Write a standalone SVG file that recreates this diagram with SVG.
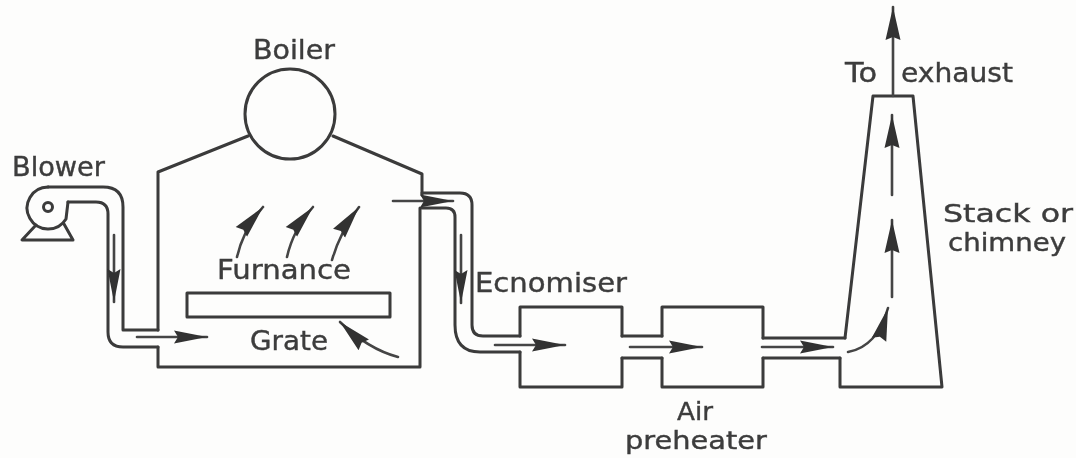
<svg xmlns="http://www.w3.org/2000/svg" width="1076" height="458" viewBox="0 0 1076 458">
<style>
.o{fill:none;stroke:#3a3a3a;stroke-width:3;stroke-linejoin:round;stroke-linecap:round}
.f{fill:none;stroke:#444;stroke-width:2.6;stroke-linecap:round}
.h{marker-end:url(#a)}
.s{marker-end:url(#b)}
text{font-family:"DejaVu Sans","Liberation Sans",sans-serif;font-size:27px;fill:#3c3c3c;stroke:#3c3c3c;stroke-width:.4}
.t{font-size:25px}
</style>
<defs>
<marker id="a" markerUnits="userSpaceOnUse" markerWidth="34" markerHeight="16" viewBox="0 -8 34 16" refX="33" refY="0" orient="auto">
<path d="M0 -6.500L4 0L0 6.500L33 0Z" fill="#333"/>
</marker>
<marker id="b" markerUnits="userSpaceOnUse" markerWidth="34" markerHeight="18" viewBox="0 -9 34 18" refX="33" refY="0" orient="auto">
<path d="M0 -7.500L3 0L0 7.500L33 0Z" fill="#333"/>
</marker>
<filter id="blur" x="-2%" y="-2%" width="104%" height="104%"><feGaussianBlur stdDeviation="0.7"/></filter>
</defs>
<rect width="1076" height="458" fill="#fdfdfc"/>
<g filter="url(#blur)">
<g id="boiler">
<circle class="o" cx="290" cy="114" r="45"/>
<text x="253" y="59" textLength="82" lengthAdjust="spacingAndGlyphs">Boiler</text>
</g>
<g id="furnace">
<path class="o" d="M248 136L158 172V330M158 347V367H420V208M333 136L422 174V195"/>
<text x="217" y="279" textLength="134" lengthAdjust="spacingAndGlyphs">Furnance</text>
</g>
<g id="grate">
<rect class="o" x="187" y="293" width="203" height="24"/>
<text x="250" y="350" textLength="78" lengthAdjust="spacingAndGlyphs">Grate</text>
</g>
<g id="blower">
<path class="o" d="M48 187A21 21 0 1 0 66 219L68 202"/>
<circle class="o" cx="48" cy="207" r="4.500"/>
<path class="o" d="M36 225L22 240H73L64 224"/>
<text x="12" y="176" textLength="93" lengthAdjust="spacingAndGlyphs">Blower</text>
</g>
<g id="economiser">
<path class="o" d="M520 336V307H622V336M520 352V387H622V358"/>
<text x="475" y="292" textLength="152" lengthAdjust="spacingAndGlyphs">Ecnomiser</text>
</g>
<g id="air-preheater">
<path class="o" d="M662 336V307H763V338M662 358V387H763V358"/>
<text x="677" y="420" textLength="36" lengthAdjust="spacingAndGlyphs" class="t">Air</text>
<text x="625" y="449" textLength="142" lengthAdjust="spacingAndGlyphs" class="t">preheater</text>
</g>
<g id="chimney">
<path class="o" d="M845 338L873 96H913L942 387H840V358"/>
<text x="845" y="82" textLength="32" lengthAdjust="spacingAndGlyphs">To</text>
<text x="901" y="82" textLength="112" lengthAdjust="spacingAndGlyphs">exhaust</text>
<text x="943" y="222" textLength="130" lengthAdjust="spacingAndGlyphs" class="t">Stack or</text>
<text x="948" y="251" textLength="118" lengthAdjust="spacingAndGlyphs" class="t">chimney</text>
</g>
<g id="connectors">
<path class="o" d="M48 187H103Q123 187 123 207V330H158"/>
<path class="o" d="M68 202H96Q108 202 108 214V332Q108 347 123 347H158"/>
<path class="o" d="M422 193H460Q472 193 472 205V325Q472 336 483 336H520"/>
<path class="o" d="M422 208H446Q455 208 455 217V325Q455 352 480 352H520"/>
<path class="o" d="M622 336H662M622 358H662M763 338H845M763 358H840"/>
<path class="f h" d="M114 235V302"/>
<path class="f h" d="M137 337H207"/>
<path class="f s" d="M237 257Q243 230 263 207"/>
<path class="f s" d="M287 257Q293 230 313 207"/>
<path class="f s" d="M332 260Q340 232 359 207"/>
<path class="f s" d="M398 357Q368 349 340 322"/>
<path class="f h" d="M393 201H453"/>
<path class="f h" d="M461 235V303"/>
<path class="f h" d="M495 345H565"/>
<path class="f h" d="M630 347H702"/>
<path class="f h" d="M762 347H833"/>
<path class="f s" d="M848 352Q877 347 888 308"/>
<path class="f s" d="M892 297V220"/>
<path class="f s" d="M892 195V115"/>
<path class="f s" d="M893 96V7"/>
</g>
</g>
</svg>
